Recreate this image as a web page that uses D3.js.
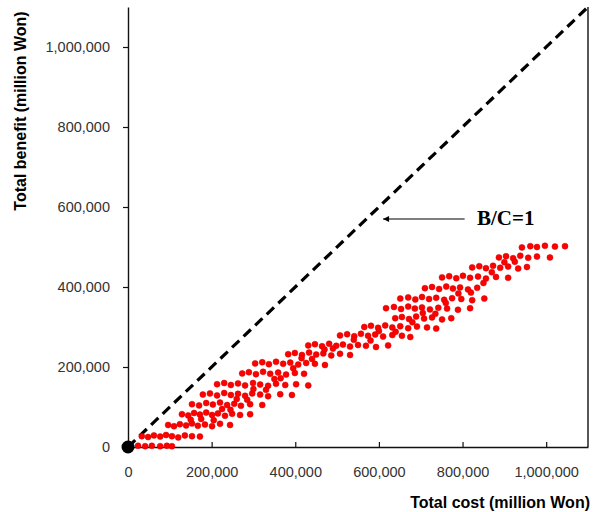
<!DOCTYPE html>
<html>
<head>
<meta charset="utf-8">
<script src="https://cdn.jsdelivr.net/npm/d3@7"></script>
<style>
  body { margin: 0; background: #fff; }
  #chart { width: 598px; height: 512px; }
  .tick text { font-family: "Liberation Sans", Arial, sans-serif; font-size: 14.5px; fill: #333; }
</style>
</head>
<body>
<div id="chart"></div>
<script>
// Data (million Won), one row of the band per line
var costs = [
  24000,41000,57000,77000,93000,105000,
  33000,48000,62000,77000,91000,105000,120000,136000,153000,172000,
  96000,110000,124000,139000,153000,167000,184000,201000,220000,244000,
  129000,144000,158000,172000,187000,201000,215000,232000,249000,268000,292000,
  153000,170000,187000,203000,220000,237000,254000,270000,292000,321000,
  179000,196000,213000,230000,246000,263000,280000,297000,316000,335000,364000,392000,
  213000,230000,246000,263000,280000,299000,316000,335000,354000,376000,402000,431000,
  273000,289000,306000,323000,340000,359000,378000,399000,421000,
  304000,321000,337000,354000,371000,388000,407000,426000,447000,471000,
  383000,399000,416000,433000,450000,467000,486000,507000,531000,
  431000,447000,464000,481000,498000,514000,531000,550000,569000,593000,622000,
  507000,524000,541000,557000,574000,591000,610000,632000,655000,675000,
  565000,581000,598000,615000,632000,651000,670000,691000,715000,737000,
  639000,655000,672000,689000,708000,727000,751000,773000,
  617000,636000,653000,670000,686000,703000,722000,742000,763000,789000,818000,
  651000,670000,687000,703000,720000,737000,756000,775000,797000,823000,852000,
  710000,727000,744000,761000,777000,794000,813000,835000,
  751000,768000,785000,801000,818000,837000,856000,880000,909000,
  823000,840000,856000,873000,890000,909000,933000,954000,
  887000,904000,921000,938000,957000,978000,1009000,
  942000,962000,978000,997000,1021000,1045000
];
var benefits = [
  3000,2000,3000,2000,3000,2000,
  27000,25000,29000,26000,30000,27000,24000,29000,27000,26000,
  55000,52000,57000,54000,59000,53000,56000,52000,58000,55000,
  82000,79000,85000,81000,86000,80000,84000,78000,83000,80000,82000,
  107000,104000,110000,106000,111000,105000,108000,103000,107000,105000,
  131000,134000,129000,135000,130000,133000,128000,134000,131000,127000,132000,130000,
  157000,160000,155000,159000,154000,160000,156000,153000,158000,155000,157000,154000,
  184000,187000,182000,188000,183000,186000,181000,185000,183000,
  209000,212000,207000,213000,208000,211000,206000,210000,208000,205000,
  232000,235000,230000,236000,231000,234000,229000,233000,230000,
  254000,257000,252000,258000,253000,256000,251000,255000,253000,250000,254000,
  279000,282000,277000,283000,278000,281000,276000,280000,278000,275000,
  300000,303000,298000,304000,299000,302000,297000,301000,299000,296000,
  322000,325000,320000,326000,321000,324000,319000,322000,
  347000,350000,345000,351000,346000,349000,344000,348000,346000,343000,347000,
  371000,374000,369000,375000,370000,373000,368000,372000,370000,367000,371000,
  397000,400000,395000,401000,396000,399000,394000,398000,
  424000,427000,422000,428000,423000,426000,421000,425000,423000,
  449000,452000,447000,453000,448000,451000,446000,450000,
  474000,477000,472000,478000,473000,476000,474000,
  499000,502000,500000,503000,501000,502000
];
// points lying between the rows
var extraCosts = [150000,175000,205000,225000,245000,260000,285000,300000,330000,350000,
  365000,395000,415000,440000,470000,490000,540000,580000,600000,640000,
  680000,705000,735000,760000,790000,820000,850000,870000,900000,925000];
var extraBenefits = [68000,70000,67000,95000,93000,120000,118000,145000,143000,170000,
  172000,197000,222000,220000,244000,246000,268000,266000,290000,288000,
  312000,335000,333000,360000,384000,386000,410000,437000,462000,463000];

var xTicks = [0, 200000, 400000, 600000, 800000, 1000000];
var yTicks = [0, 200000, 400000, 600000, 800000, 1000000];
var axisMax = 1100000;
var bcLine = [[0, 0], [1100000, 1100000]];
var arrowFrom = [805000, 570000], arrowTo = [610000, 570000];

var points = costs.map(function(c, i){ return {x: c, y: benefits[i]}; })
  .concat(extraCosts.map(function(c, i){ return {x: c, y: extraBenefits[i]}; }));

var svg = d3.select("#chart").append("svg")
  .attr("width", 598).attr("height", 512);

var x = d3.scaleLinear().domain([0, axisMax]).range([128, 588]);
var y = d3.scaleLinear().domain([0, axisMax]).range([447, 7]);

var fmt = d3.format(",");

// axes
var xAxis = svg.append("g")
  .attr("transform", "translate(0," + y(0) + ")")
  .call(d3.axisBottom(x).tickValues(xTicks).tickFormat(fmt).tickSize(-5).tickSizeOuter(0).tickPadding(20));
var yAxis = svg.append("g")
  .attr("transform", "translate(" + x(0) + ",0)")
  .call(d3.axisLeft(y).tickValues(yTicks).tickFormat(fmt).tickSize(5).tickSizeOuter(0).tickPadding(13));
svg.selectAll(".domain").attr("stroke", "#111").attr("stroke-width", 1.4);
svg.selectAll(".tick line").attr("stroke", "#111").attr("stroke-width", 1.2);

// right border
svg.append("line")
  .attr("x1", x(axisMax)).attr("x2", x(axisMax))
  .attr("y1", y(0)).attr("y2", y(axisMax))
  .attr("stroke", "#111").attr("stroke-width", 1.4);

// B/C = 1 line
svg.append("line")
  .attr("x1", x(bcLine[0][0])).attr("y1", y(bcLine[0][1]))
  .attr("x2", x(bcLine[1][0])).attr("y2", y(bcLine[1][1]))
  .attr("stroke", "#000").attr("stroke-width", 3.2)
  .attr("stroke-dasharray", "10,6");

// scatter
svg.append("g").selectAll("circle")
  .data(points)
  .enter()
  .append("circle")
    .attr("cx", function(d){ return x(d.x); })
    .attr("cy", function(d){ return y(d.y); })
    .attr("r", 3)
    .attr("fill", "#f00")
    .attr("stroke", "#d00000")
    .attr("stroke-width", 0.5);

// origin marker
svg.append("circle")
  .attr("cx", x(0)).attr("cy", y(0)).attr("r", 6.5)
  .attr("fill", "#000");

// arrow + label
svg.append("defs").append("marker")
  .attr("id", "head")
  .attr("viewBox", "0 0 10 10")
  .attr("refX", 10).attr("refY", 5)
  .attr("markerWidth", 9).attr("markerHeight", 6)
  .attr("markerUnits", "userSpaceOnUse")
  .attr("orient", "auto")
  .append("path").attr("d", "M0,0L10,5L0,10Z").attr("fill", "#000");

svg.append("line")
  .attr("x1", x(arrowFrom[0])).attr("y1", y(arrowFrom[1]))
  .attr("x2", x(arrowTo[0])).attr("y2", y(arrowTo[1]))
  .attr("stroke", "#000").attr("stroke-width", 1.2)
  .attr("marker-end", "url(#head)");

svg.append("text")
  .attr("x", 477).attr("y", 225)
  .style("font-family", "'Liberation Serif', 'Times New Roman', serif")
  .style("font-weight", "bold").style("font-size", "21px")
  .text("B/C=1");

// axis titles
svg.append("text")
  .attr("x", 590).attr("y", 508)
  .attr("text-anchor", "end")
  .style("font-family", "'Liberation Sans', Arial, sans-serif")
  .style("font-weight", "bold").style("font-size", "16px")
  .text("Total cost (million Won)");

svg.append("text")
  .attr("transform", "translate(26,111) rotate(-90)")
  .attr("text-anchor", "middle")
  .style("font-family", "'Liberation Sans', Arial, sans-serif")
  .style("font-weight", "bold").style("font-size", "16px")
  .text("Total benefit (million Won)");
</script>
</body>
</html>
